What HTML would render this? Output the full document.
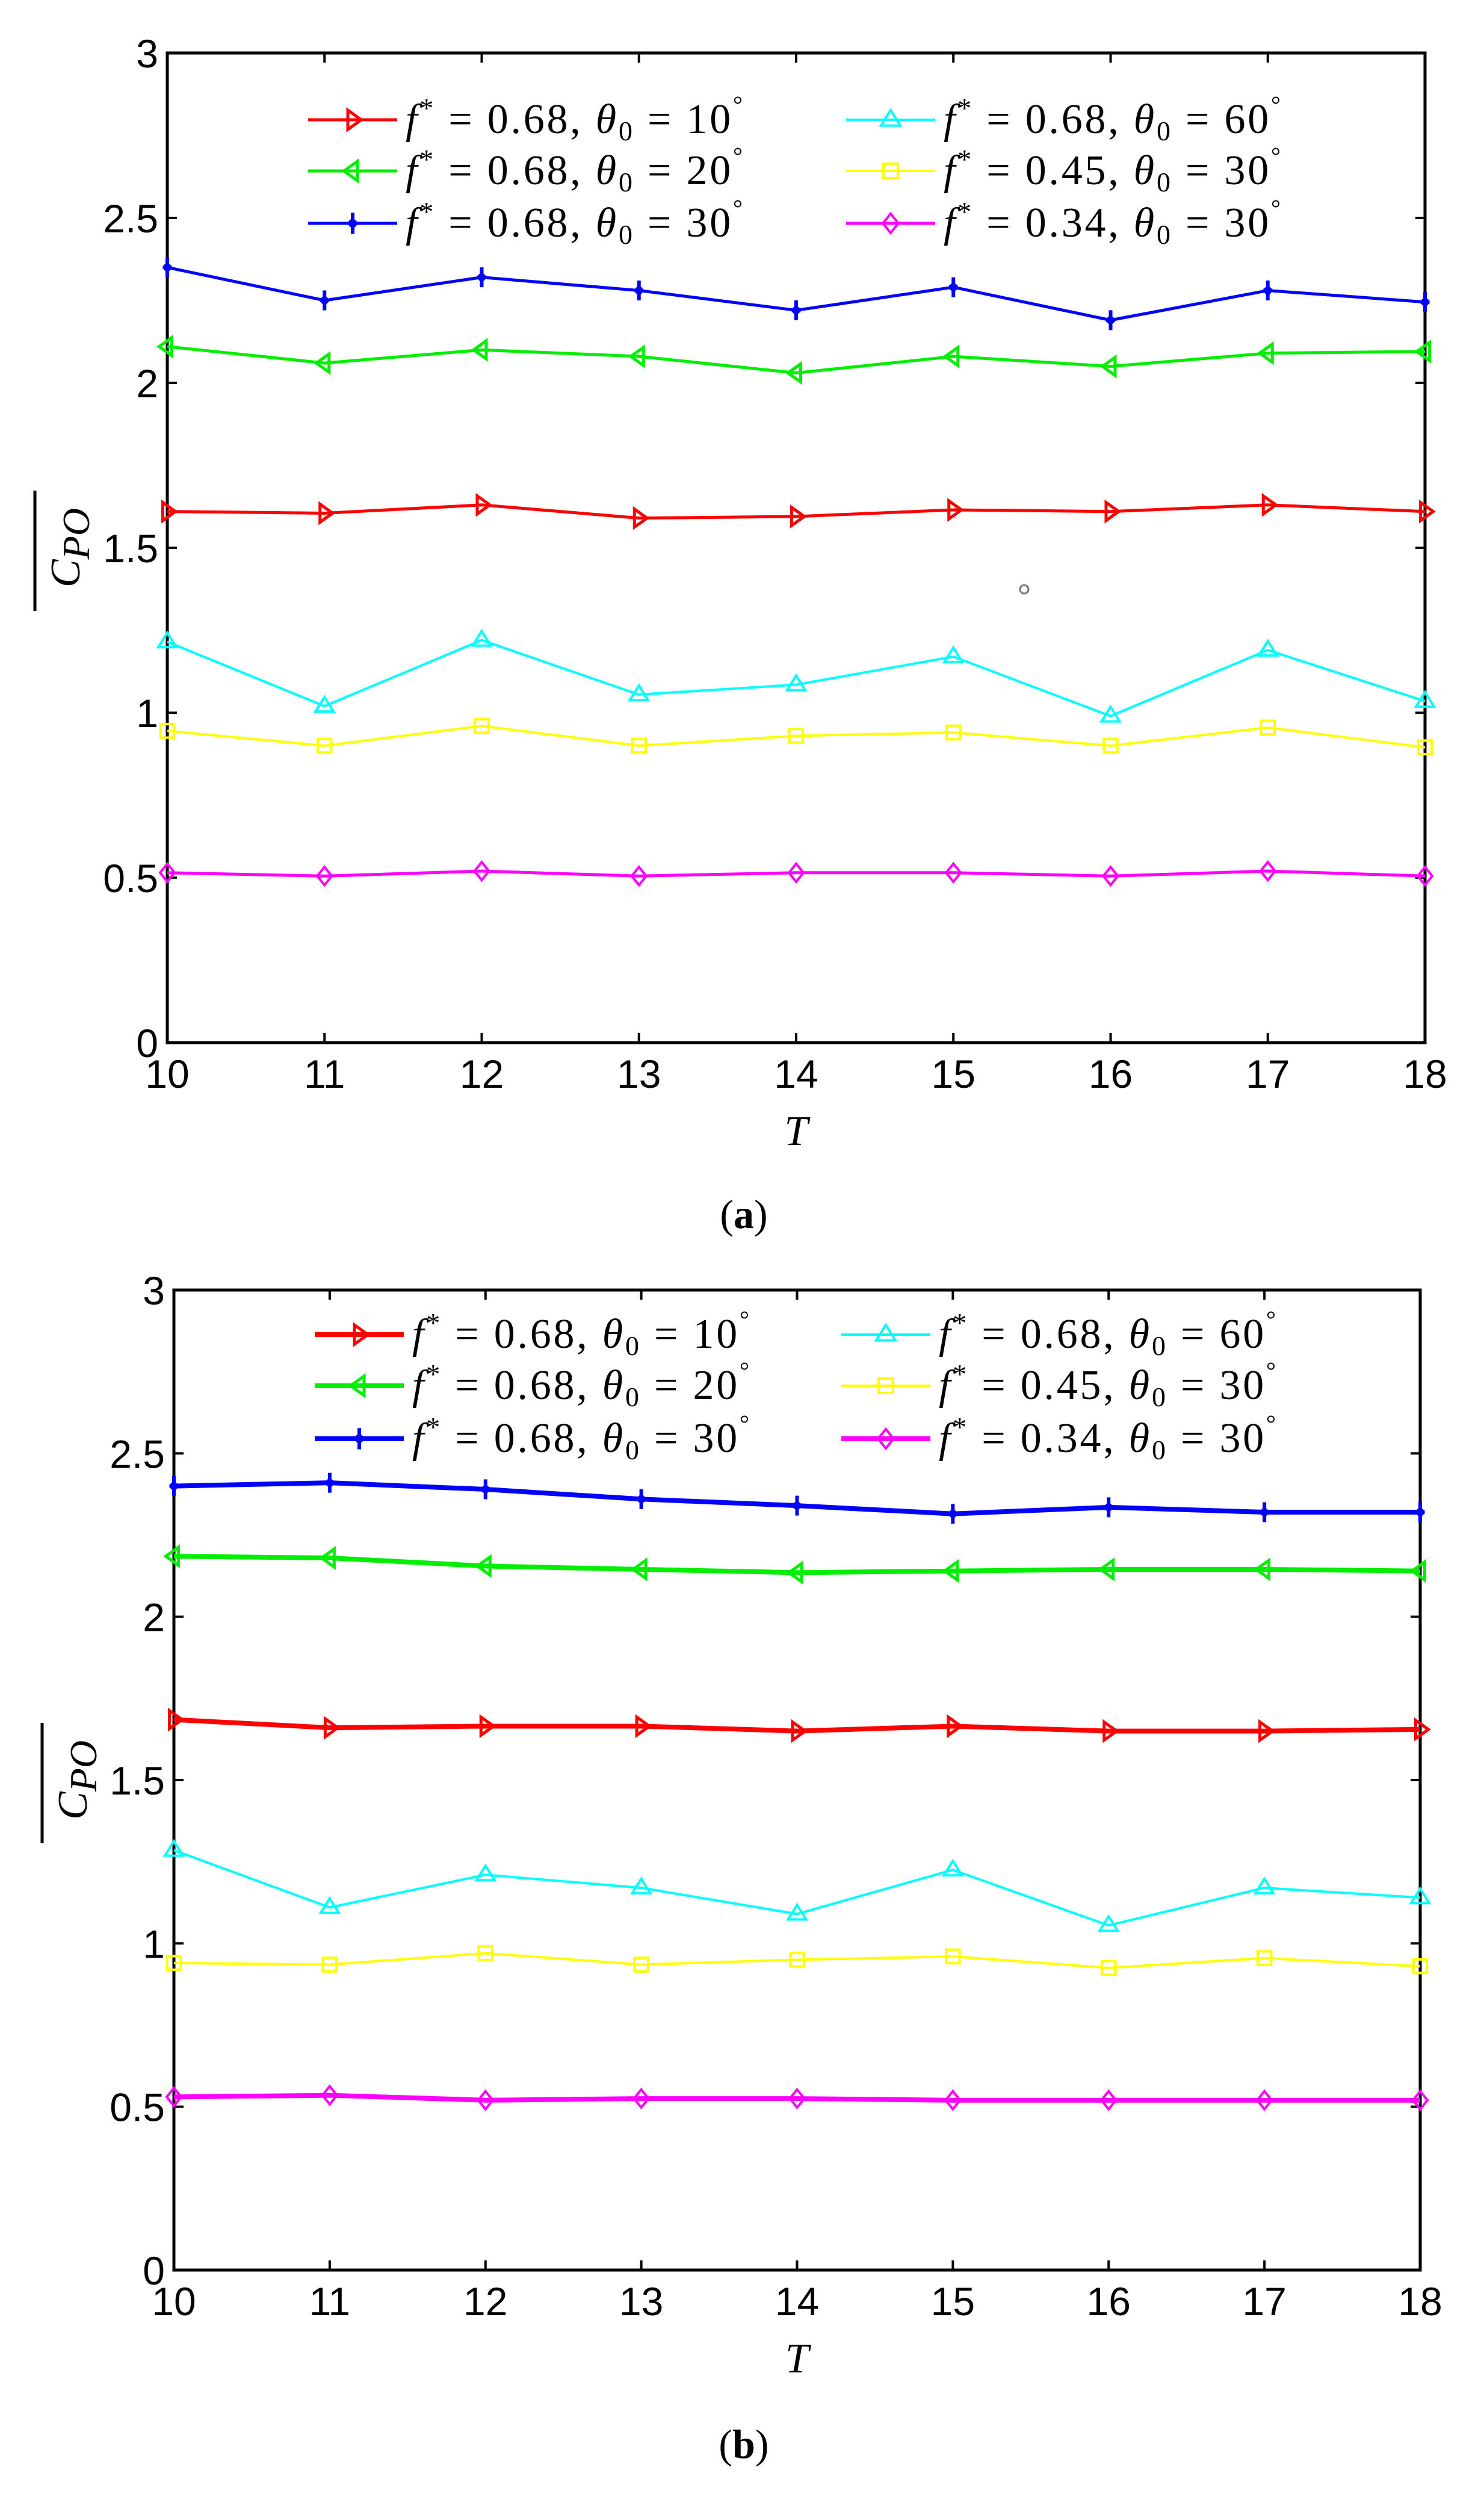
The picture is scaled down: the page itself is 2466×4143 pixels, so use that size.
<!DOCTYPE html>
<html><head><meta charset="utf-8">
<style>
html,body{margin:0;padding:0;background:#fff;}
svg{display:block;}
.tick{font-family:"Liberation Sans",Arial,sans-serif;font-size:66px;fill:#000;}
.leg{font-family:"Liberation Serif","DejaVu Serif",serif;font-size:70px;fill:#000;}
.cap{font-family:"Liberation Serif",serif;font-size:68px;fill:#000;}
</style></head>
<body>
<svg id="chart" width="2466" height="4143" viewBox="0 0 2466 4143" xmlns="http://www.w3.org/2000/svg">
<rect x="0" y="0" width="2466" height="4143" fill="#fff"/>
<text class="cap" x="1236" y="2040" text-anchor="middle">(<tspan font-weight="bold">a</tspan>)</text>
<text class="cap" x="1236" y="4083" text-anchor="middle">(<tspan font-weight="bold">b</tspan>)</text>
<circle cx="1702" cy="979" r="7" fill="none" stroke="#777" stroke-width="3"/>
</svg>
<script>
const categories = [10,11,12,13,14,15,16,17,18];
const yTicks = [0,0.5,1,1.5,2,2.5,3];
const yTickLabels = ["0","0.5","1","1.5","2","2.5","3"];
const seriesNames = ["10","20","30","60","30","30"];
const seriesF = ["0.68","0.68","0.68","0.68","0.45","0.34"];
const a_red = [1.61,1.605,1.63,1.59,1.595,1.615,1.61,1.63,1.61];
const a_green = [2.11,2.06,2.10,2.08,2.03,2.08,2.05,2.09,2.095];
const a_blue = [2.35,2.25,2.32,2.28,2.22,2.29,2.19,2.28,2.245];
const a_cyan = [1.215,1.02,1.22,1.055,1.085,1.17,0.99,1.19,1.035];
const a_yellow = [0.945,0.90,0.96,0.90,0.93,0.94,0.90,0.955,0.895];
const a_magenta = [0.515,0.505,0.52,0.505,0.515,0.515,0.505,0.52,0.505];
const b_red = [1.685,1.66,1.665,1.665,1.65,1.665,1.65,1.65,1.655];
const b_green = [2.185,2.18,2.155,2.145,2.135,2.14,2.145,2.145,2.14];
const b_blue = [2.40,2.41,2.39,2.36,2.34,2.315,2.335,2.32,2.32];
const b_cyan = [1.285,1.11,1.21,1.17,1.09,1.225,1.055,1.17,1.14];
const b_yellow = [0.94,0.935,0.97,0.935,0.95,0.96,0.925,0.955,0.93];
const b_magenta = [0.53,0.535,0.52,0.525,0.525,0.52,0.52,0.52,0.52];

const NS="http://www.w3.org/2000/svg";
const svg=document.getElementById('chart');
function mk(tag,attrs,parent){const e=document.createElementNS(NS,tag);for(const k in attrs)e.setAttribute(k,attrs[k]);(parent||svg).appendChild(e);return e;}

const colors=["#ff0000","#00ee00","#0000ff","#00ffff","#ffff00","#ff00ff"];
const markers=["right","left","star","up","square","diamond"];

function marker(g,type,x,y,c,s){
  let e;
  if(type==="right") e=mk('polygon',{points:`${x-s*0.5},${y-s} ${x+s*0.9},${y} ${x-s*0.5},${y+s}`,fill:'none',stroke:c,'stroke-width':5},g);
  else if(type==="left") e=mk('polygon',{points:`${x+s*0.5},${y-s} ${x-s*0.9},${y} ${x+s*0.5},${y+s}`,fill:'none',stroke:c,'stroke-width':5},g);
  else if(type==="up") e=mk('polygon',{points:`${x-s},${y+s*0.6} ${x+s},${y+s*0.6} ${x},${y-s}`,fill:'none',stroke:c,'stroke-width':4},g);
  else if(type==="square") e=mk('rect',{x:x-s*0.75,y:y-s*0.75,width:s*1.5,height:s*1.5,fill:'none',stroke:c,'stroke-width':4},g);
  else if(type==="diamond") e=mk('polygon',{points:`${x},${y-s} ${x+s*0.8},${y} ${x},${y+s} ${x-s*0.8},${y}`,fill:'none',stroke:c,'stroke-width':4},g);
  else { e=mk('path',{d:`M${x},${y-s*1.1}V${y+s*1.1}M${x-s*0.5},${y}H${x+s*0.5}`,stroke:c,'stroke-width':6},g);
    mk('circle',{cx:x,cy:y,r:s*0.45,fill:c},g); }
  
  
}

function panel(id,box,data,lw,leg){
  const g=mk('g',{});
  
  
  const xs=v=>box.x0+(v-10)/(18-10)*(box.x1-box.x0);
  const ys=v=>box.y1-(v/3)*(box.y1-box.y0);
  const frame=mk('rect',{x:box.x0,y:box.y0,width:box.x1-box.x0,height:box.y1-box.y0,fill:'none',stroke:'#000','stroke-width':5},g);
  
  
  categories.forEach(c=>{
    const x=xs(c);
    if(c>10&&c<18){
      mk('line',{x1:x,x2:x,y1:box.y1,y2:box.y1-16,stroke:'#000','stroke-width':4},g);
      mk('line',{x1:x,x2:x,y1:box.y0,y2:box.y0+16,stroke:'#000','stroke-width':4},g);
    }
    const t=mk('text',{x:x,y:box.y1+75,'text-anchor':'middle',class:'tick'},g);
    t.textContent=c;
    
    
  });
  yTicks.forEach((v,i)=>{
    const y=ys(v);
    if(v>0&&v<3){
      mk('line',{x1:box.x0,x2:box.x0+16,y1:y,y2:y,stroke:'#000','stroke-width':4},g);
      mk('line',{x1:box.x1,x2:box.x1-16,y1:y,y2:y,stroke:'#000','stroke-width':4},g);
    }
    const t=mk('text',{x:box.x0-15,y:y+24,'text-anchor':'end',class:'tick'},g);
    t.textContent=yTickLabels[i];
    
    
  });
  data.forEach((arr,si)=>{
    const sg=mk('g',{},g);
    
    
    const pts=arr.map((v,i)=>xs(categories[i])+','+ys(v)).join(' ');
    const w=lw[si];
    const pl=mk('polyline',{points:pts,fill:'none',stroke:colors[si],'stroke-width':w,'stroke-linejoin':'round'},sg);
    
    
    arr.forEach((v,i)=>marker(sg,markers[si],xs(categories[i]),ys(v),colors[si],15));
  });
  const lg=mk('g',{},g);
  
  
  for(let si=0;si<6;si++){
    const col=si<3?0:1, row=si%3;
    const lx=leg.cols[col], ly=leg.rows[row];
    const eg=mk('g',{},lg);
    
    
    mk('line',{x1:lx,x2:lx+148,y1:ly,y2:ly,stroke:colors[si],'stroke-width':lw[si]},eg);
    marker(eg,markers[si],lx+74,ly,colors[si],16);
    const t=mk('text',{x:lx+162,y:ly+22,class:'leg',textLength:560,lengthAdjust:'spacing'},eg);
    t.innerHTML=`<tspan font-style="italic">f</tspan><tspan dy="-26" font-size="46">*</tspan><tspan dy="26"> = ${seriesF[si]}, </tspan><tspan font-style="italic">θ</tspan><tspan dy="12" font-size="46">0</tspan><tspan dy="-12"> = ${seriesNames[si]}</tspan><tspan dy="-34" font-size="40">°</tspan>`;
  }
  const tx=mk('text',{x:(box.x0+box.x1)/2,y:box.y1+170,'text-anchor':'middle',class:'leg','font-style':'italic','font-size':96},g);
  tx.textContent='T';
  
  
  const cy=(box.y0+box.y1)/2;
  const yt=mk('text',{x:0,y:0,'text-anchor':'middle',class:'leg','font-size':96,transform:`translate(${leg.ytx},${cy}) rotate(-90)`},g);
  yt.innerHTML='<tspan font-style="italic">C</tspan><tspan dy="16" font-size="64" font-style="italic">PO</tspan>';
  
  
  mk('line',{x1:leg.ytx-74,x2:leg.ytx-74,y1:cy-95,y2:cy+105,stroke:'#000','stroke-width':5},g);
}

panel('a',{x0:278,x1:2368,y0:88,y1:1732},[a_red,a_green,a_blue,a_cyan,a_yellow,a_magenta],[5,5,5,4,4,5],{cols:[512,1406],rows:[199,284,371],ytx:132});
panel('b',{x0:289,x1:2360,y0:2143,y1:3771},[b_red,b_green,b_blue,b_cyan,b_yellow,b_magenta],[8,8,8,4,4,8],{cols:[523,1398],rows:[2217,2302,2390],ytx:144});
</script>
</body></html>
